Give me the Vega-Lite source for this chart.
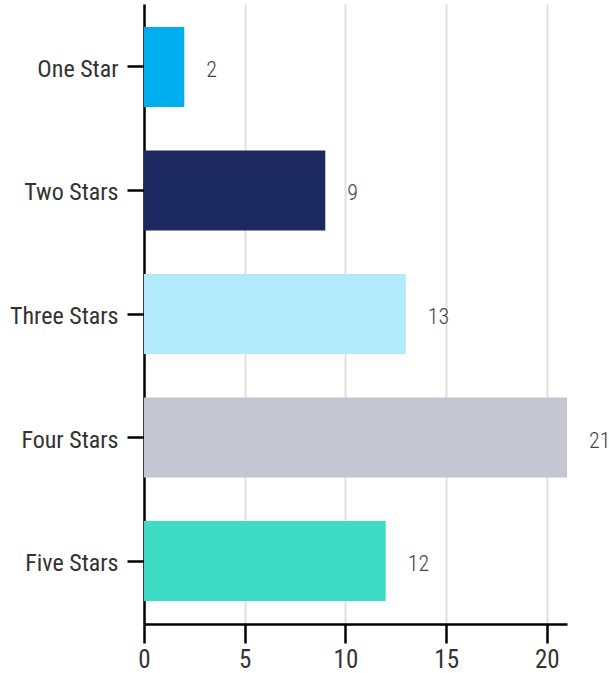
{
  "$schema": "https://vega.github.io/schema/vega-lite/v6.json",
  "autosize": "none",
  "width": 423,
  "height": 620,
  "padding": {"left": 144, "top": 4, "right": 42, "bottom": 49},
  "background": "white",
  "config": {"view": {"stroke": null}},
  "data": {
    "values": [
      {"rating": "One Star", "count": 2},
      {"rating": "Two Stars", "count": 9},
      {"rating": "Three Stars", "count": 13},
      {"rating": "Four Stars", "count": 21},
      {"rating": "Five Stars", "count": 12}
    ]
  },
  "encoding": {
    "y": {
      "field": "rating",
      "type": "nominal",
      "sort": ["One Star", "Two Stars", "Three Stars", "Four Stars", "Five Stars"],
      "scale": {"paddingInner": 0.352, "paddingOuter": 0.186},
      "axis": {
        "title": null,
        "domainColor": "#000000",
        "domainWidth": 2.5,
        "tickColor": "#000000",
        "tickWidth": 2.5,
        "tickSize": 17,
        "labelPadding": 9,
        "labelOffset": 3,
        "labelFont": "Roboto Condensed, DejaVu Sans Condensed, Roboto, sans-serif",
        "labelFontSize": 24,
        "labelColor": "#333333",
        "grid": false
      }
    },
    "x": {
      "field": "count",
      "type": "quantitative",
      "scale": {"domain": [0, 21], "nice": false},
      "axis": {
        "title": null,
        "values": [0, 5, 10, 15, 20],
        "domainColor": "#000000",
        "domainWidth": 2.5,
        "tickColor": "#000000",
        "tickWidth": 2.5,
        "tickSize": 19,
        "labelPadding": 4,
        "labelFont": "Roboto Condensed, DejaVu Sans Condensed, Roboto, sans-serif",
        "labelFontSize": 25,
        "labelColor": "#333333",
        "labelFlush": false,
        "grid": true,
        "gridColor": "#e0e0e0",
        "gridWidth": 2
      }
    }
  },
  "layer": [
    {
      "mark": {"type": "bar"},
      "encoding": {
        "color": {
          "field": "rating",
          "type": "nominal",
          "scale": {
            "domain": ["One Star", "Two Stars", "Three Stars", "Four Stars", "Five Stars"],
            "range": ["#00adef", "#1c2960", "#b3ebfc", "#c4c7d2", "#3edcc5"]
          },
          "legend": null
        }
      }
    },
    {
      "mark": {
        "type": "text",
        "align": "left",
        "baseline": "middle",
        "dx": 22,
        "dy": 3,
        "font": "Roboto Condensed, DejaVu Sans Condensed, Roboto, sans-serif",
        "fontSize": 22,
        "fontWeight": 300,
        "color": "#444444"
      },
      "encoding": {
        "text": {"field": "count", "type": "quantitative"}
      }
    }
  ]
}
